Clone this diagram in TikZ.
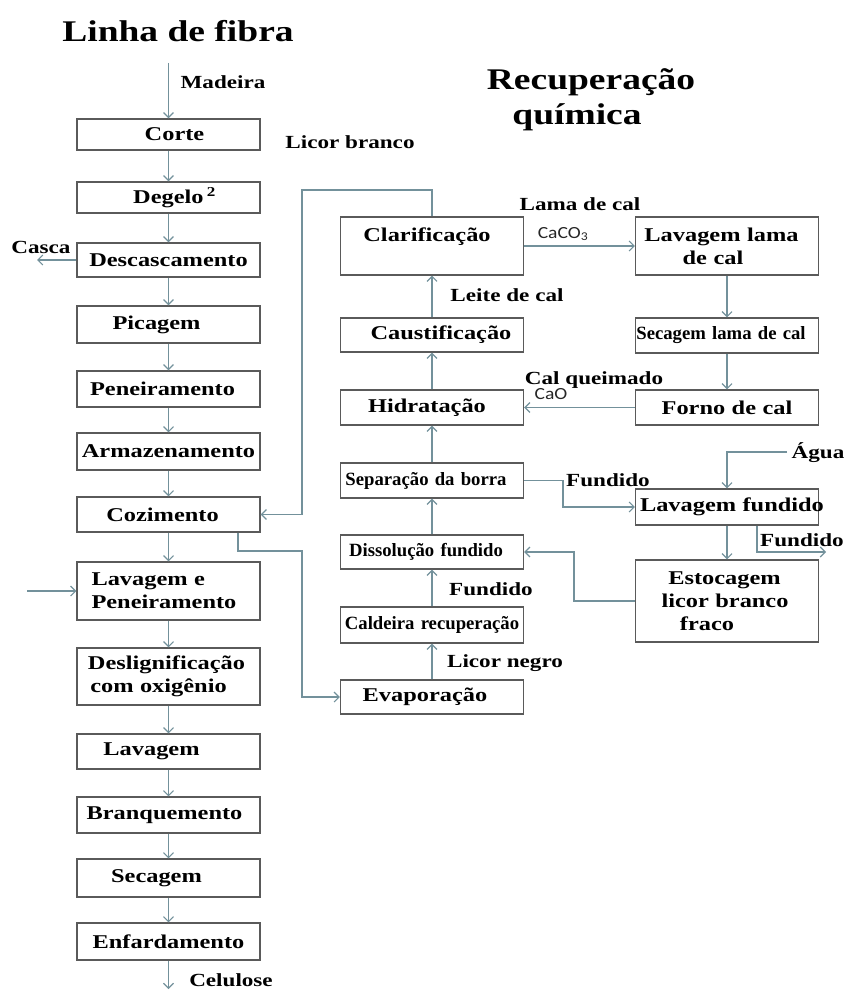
\documentclass[tikz,border=0pt]{standalone}
\usepackage{fontspec}
\setmainfont{Liberation Serif}[FakeStretch=1.25]
\newfontfamily\narrowfamily{Liberation Serif}
\newfontfamily\sansfamilyx{Carlito}[FakeStretch=1.15]
\usetikzlibrary{arrows.meta}
\definecolor{linec}{RGB}{115,145,155}
\definecolor{boxc}{RGB}{90,90,90}
\newcommand\shtext[2]{\hspace*{#1}#2\hspace*{-#1}}
\newcommand\boxf{\bfseries\fontsize{19.5}{23}\selectfont}
\newcommand\narrowf{\narrowfamily\bfseries\fontsize{18.7}{22}\selectfont}
\newcommand\lblf{\bfseries\fontsize{18.5}{22}\selectfont}
\newcommand\titf{\bfseries\fontsize{30}{35}\selectfont}
\newcommand\chemf{\sansfamilyx\fontsize{17}{20}\selectfont}
\tikzset{
 pbox/.style={draw=boxc, line width=1.4pt, minimum height=#1, text width=178pt,
   inner xsep=2.5pt, inner ysep=0pt, align=center, font=\boxf, text=black},
 nbox/.style={pbox=#1, font=\narrowf},
 lbl/.style={anchor=base, inner sep=0pt, font=\lblf, text=black},
 ttl/.style={anchor=base, inner sep=0pt, font=\titf, text=black},
 chem/.style={anchor=base, inner sep=0pt, font=\chemf, text=black!85},
 flow/.style={draw=linec, line width=1.2pt, -{Straight Barb[length=5pt,width=10pt,line width=1.1pt]}},
}
\begin{document}
\begin{tikzpicture}[x=1pt,y=-1pt]
\useasboundingbox (0,0) rectangle (846,992);

% ---- titles
\node[ttl] (tit1) at (178,42) {Linha de fibra};
\node[ttl] (tit2) at (591,90) {Recuperação};
\node[ttl] (tit3) at (577,125) {química};

% ---- left column
\node[pbox=31] (corte)   at (168.5,134.5) {\shtext{6pt}{Corte}};
\node[pbox=31] (degelo)  at (168.5,197.5) {\shtext{6pt}{Degelo\,\textsuperscript{2}}};
\node[pbox=34] (desc)    at (168.5,260)   {Descascamento};
\node[pbox=37] (picagem) at (168.5,324.5) {\shtext{-12pt}{Picagem}};
\node[pbox=36] (pen)     at (168.5,389)   {\shtext{-6pt}{Peneiramento}};
\node[pbox=37] (armaz)   at (168.5,451.5) {Armazenamento};
\node[pbox=35] (coz)     at (168.5,514.5) {\shtext{-6pt}{Cozimento}};
\node[pbox=58, align=left] (lavpen) at (168.5,591) {\hspace*{12pt}Lavagem e\\\hspace*{12pt}Peneiramento};
\node[pbox=57] (deslig)  at (168.5,676.5) {\shtext{-4pt}{Deslignificação}\\\shtext{-10pt}{com oxigênio}};
\node[pbox=35] (lav)     at (168.5,751.5) {\shtext{-17pt}{Lavagem}};
\node[pbox=36] (branq)   at (168.5,815)   {\shtext{-4pt}{Branquemento}};
\node[pbox=38] (secag)   at (168.5,878)   {\shtext{-12pt}{Secagem}};
\node[pbox=37] (enfard)  at (168.5,941.5) {Enfardamento};

% ---- right column A
\node[pbox=58] (clarif)   at (432,246) {\shtext{-5pt}{\raisebox{9pt}[\height][\depth]{Clarificação}}};
\node[pbox=34] (caust)    at (432,335) {\shtext{9pt}{Caustificação}};
\node[pbox=35] (hidrat)   at (432,407.5) {\shtext{-5pt}{Hidratação}};
\node[nbox=35] (separ)    at (432,480.5) {\shtext{-6pt}{Separação da borra}};
\node[nbox=34] (dissol)   at (432,552) {\shtext{-6pt}{Dissolução fundido}};
\node[nbox=36] (caldeira) at (432,625) {Caldeira recuperação};
\node[pbox=34] (evap)     at (432,697) {\shtext{-7pt}{Evaporação}};

% ---- right column B
\node[pbox=58] (lavlama) at (727,246) {\shtext{-11pt}{Lavagem lama}\\\shtext{-14pt}{de cal}};
\node[nbox=35] (seclama) at (727,335.5) {\shtext{-6pt}{Secagem lama de cal}};
\node[pbox=35] (forno)   at (727,407.5) {Forno de cal};
\node[pbox=36, align=left] (lavfund) at (727,507) {\mbox{\hspace*{2pt}Lavagem fundido}};
\node[pbox=82] (estoc)   at (727,601) {\shtext{-5pt}{Estocagem}\\\shtext{-4pt}{licor branco}\\\shtext{-20pt}{fraco}};

% ---- free ends and corners
\coordinate (madtop) at (168.5,63);
\coordinate (cascaend) at (37,260);
\coordinate (lavin) at (27,591);
\coordinate (celend) at (168.5,989);
\coordinate (lb1) at (302,190);
\coordinate (lb2) at (302,551);
\coordinate (fb) at (563,480.5);
\coordinate (agua1) at (787,452);
\coordinate (fundend) at (826,552);
\coordinate (eb) at (574,601);

% ---- left column connectors
\draw[flow] (madtop) -- (corte);
\draw[flow] (corte) -- (degelo);
\draw[flow] (degelo) -- (desc);
\draw[flow] (desc) -- (picagem);
\draw[flow] (picagem) -- (pen);
\draw[flow] (pen) -- (armaz);
\draw[flow] (armaz) -- (coz);
\draw[flow] (coz) -- (lavpen);
\draw[flow] (lavpen) -- (deslig);
\draw[flow] (deslig) -- (lav);
\draw[flow] (lav) -- (branq);
\draw[flow] (branq) -- (secag);
\draw[flow] (secag) -- (enfard);
\draw[flow] (enfard) -- (celend);
\draw[flow] (desc.west) -- (cascaend);
\draw[flow] (lavin) -- (lavpen.west);

% ---- loops between columns
\draw[flow] (clarif.north) |- (lb1) |- (coz.east);
\draw[flow] ([xshift=69.5pt]coz.south) |- (lb2) |- (evap.west);

% ---- right column A
\draw[flow] (evap) -- (caldeira);
\draw[flow] (caldeira) -- (dissol);
\draw[flow] (dissol) -- (separ);
\draw[flow] (separ) -- (hidrat);
\draw[flow] (hidrat) -- (caust);
\draw[flow] (caust) -- (clarif);

% ---- right column B
\draw[flow] (clarif) -- (lavlama);
\draw[flow] (lavlama) -- (seclama);
\draw[flow] (seclama) -- (forno);
\draw[flow] (forno) -- (hidrat);
\draw[flow] (separ.east) -- (fb) |- (lavfund.west);
\draw[flow] (agua1) -| (lavfund.north);
\draw[flow] (lavfund) -- (estoc);
\draw[flow] ([xshift=30pt]lavfund.south) |- (fundend);
\draw[flow] (estoc.west) -- (eb) |- (dissol.east);

% ---- labels
\node[lbl] (madeira)  at (223,89)  {Madeira};
\node[lbl] (casca)    at (41,253)  {Casca};
\node[lbl] (licorbr)  at (350,149) {Licor branco};
\node[lbl] (lamacal)  at (580,211) {Lama de cal};
\node[chem] (caco)    at (563,238) {CaCO\textsubscript{3}};
\node[lbl] (leite)    at (507,301) {Leite de cal};
\node[lbl] (calq)     at (594,384) {Cal queimado};
\node[chem] (cao)     at (551,399) {CaO};
\node[lbl] (fund1)    at (608,486) {Fundido};
\node[lbl] (agua)     at (818,458) {Água};
\node[lbl] (fund2)    at (802,546) {Fundido};
\node[lbl] (fund3)    at (491,595) {Fundido};
\node[lbl] (licorng)  at (505,667) {Licor negro};
\node[lbl] (celulose) at (231,986) {Celulose};
\end{tikzpicture}
\end{document}
